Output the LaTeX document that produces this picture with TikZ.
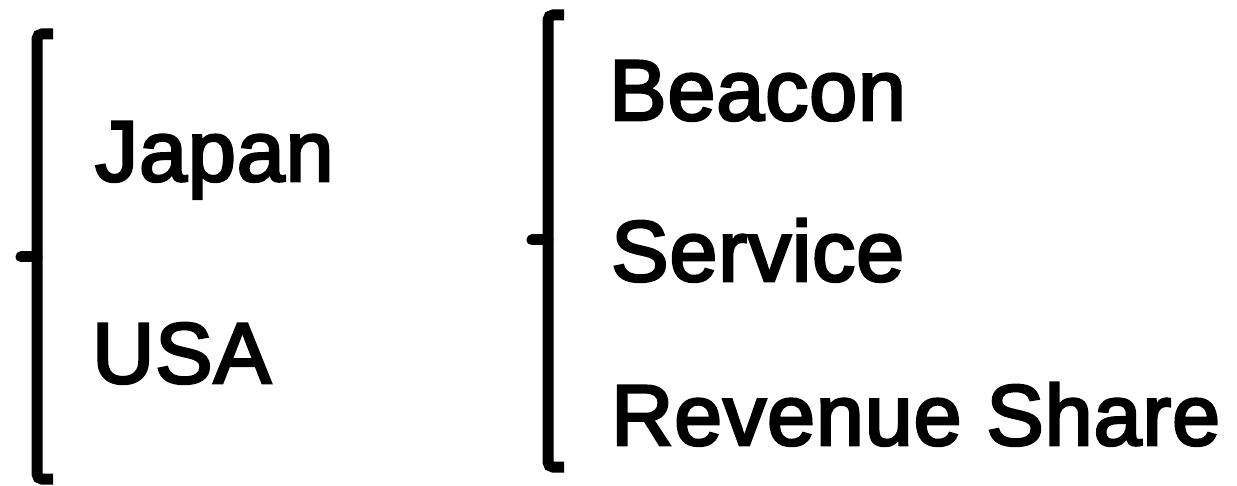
\documentclass[tikz,border=0pt]{standalone}
\usepackage{fontspec}
\newfontfamily\labelfont{Liberation Sans}[BoldFont={Liberation Sans},BoldFeatures={FakeBold=3.2},LetterSpace=1.2]
\begin{document}
\begin{tikzpicture}[x=1pt,y=-1pt,
  label/.style={anchor=base west,inner sep=0pt,font=\labelfont\bfseries\fontsize{86}{100}\selectfont},
  brace/.style={line width=11pt,rounded corners=5pt},
  tick/.style={line width=11pt,line cap=round}]
\useasboundingbox[fill=white] (0,0) rectangle (1237,486);
% left group
\node[label] (japan) at (95,181) {Japan};
\node[label] (usa) at (92,383) {USA};
\draw[brace] (53,34) -- (37,34) -- (37,479) -- (53,479);
\draw[tick] (37,257) -- (21,257);
% right group
\node[label] (beacon) at (609,120) {Beacon};
\node[label] (service) at (611,281) {Service};
\node[label] (share) at (611,445) {Revenue Share};
\draw[brace] (564,15) -- (548,15) -- (548,467) -- (564,467);
\draw[tick] (548,240) -- (532,240);
\end{tikzpicture}
\end{document}
